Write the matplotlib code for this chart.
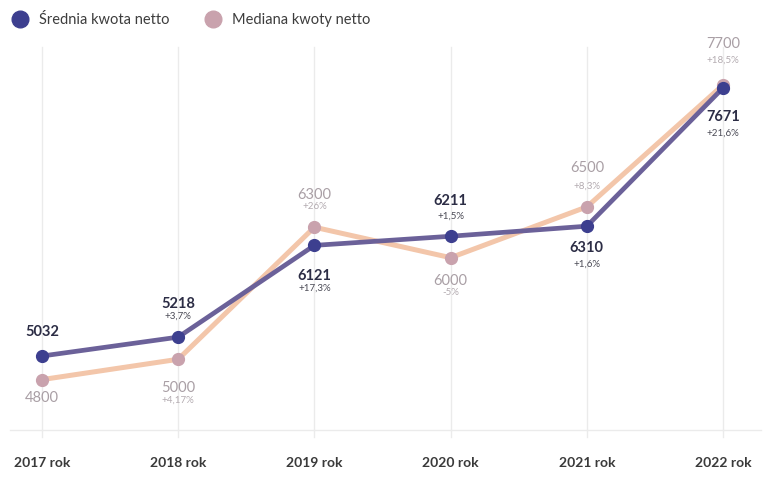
import matplotlib
matplotlib.use("Agg")
import matplotlib.pyplot as plt
from matplotlib.lines import Line2D

plt.rcParams['font.family'] = ['Lato', 'DejaVu Sans']

years = ["2017 rok", "2018 rok", "2019 rok", "2020 rok", "2021 rok", "2022 rok"]
srednia = [5032, 5218, 6121, 6211, 6310, 7671]
srednia_pct = ["", "+3,7%", "+17,3%", "+1,5%", "+1,6%", "+21,6%"]
mediana = [4800, 5000, 6300, 6000, 6500, 7700]
mediana_pct = ["", "+4,17%", "+26%", "-5%", "+8,3%", "+18,5%"]

# label offsets in pixels from the point (value, percent); positive = above
srednia_off = [(24, 0), (33, 21), (-31, -43), (35, 20), (-22, -38), (-29, -45)]
mediana_off = [(-18, 0), (-29, -41), (32, 21), (-23, -35), (39, 21), (41, 25)]

C_MEAN_LINE = "#6b6199"
C_MEAN_DOT = "#3d3f8f"
C_MED_LINE = "#f3c6aa"
C_MED_DOT = "#c9a2ad"

fig = plt.figure(figsize=(7.8, 4.8), dpi=100)
ax = fig.add_axes([0, 0, 1, 1])
x = list(range(len(years)))
ax.set_xlim(-0.308, 5.418)
ax.set_ylim(3812, 8536)
ax.axis("off")

# grid
for xi in x:
    ax.axvline(xi, ymin=0.09, ymax=0.902, color="#ebebeb", lw=1, zorder=0)
ax.axhline(4300, xmin=0.013, xmax=0.975, color="#ebebeb", lw=1, zorder=0)

ax.plot(x, mediana, color=C_MED_LINE, lw=3.6, solid_capstyle="round", zorder=2)
ax.plot(x, mediana, "o", color=C_MED_DOT, ms=8.5, zorder=3)
ax.plot(x, srednia, color=C_MEAN_LINE, lw=3.4, solid_capstyle="round", zorder=4)
ax.plot(x, srednia, "o", color=C_MEAN_DOT, ms=8.5, zorder=5)

def put_labels(vals, pcts, offs, vcol, pcol, weight):
    for xi, v, p, (ov, op) in zip(x, vals, pcts, offs):
        ax.annotate(str(v), (xi, v), xytext=(0, ov), textcoords="offset pixels",
                    ha="center", va="center", fontsize=10.5, color=vcol,
                    fontweight=weight, zorder=6)
        if p:
            ax.annotate(p, (xi, v), xytext=(0, op), textcoords="offset pixels",
                        ha="center", va="center", fontsize=7, color=pcol, zorder=6)

put_labels(srednia, srednia_pct, srednia_off, "#2c2d45", "#4a4a55", "bold")
put_labels(mediana, mediana_pct, mediana_off, "#a99fa5", "#b3abb0", "normal")

for xi, lab in zip(x, years):
    ax.text(xi, 0.035, lab, transform=ax.get_xaxis_transform(), ha="center",
            va="center", fontsize=10, fontweight="bold", color="#3a3a3a")

handles = [
    Line2D([], [], ls="none", marker="o", ms=12, color=C_MEAN_DOT),
    Line2D([], [], ls="none", marker="o", ms=12, color=C_MED_DOT),
]
fig.legend(handles, ["Średnia kwota netto", "Mediana kwoty netto"],
           loc="upper left", bbox_to_anchor=(-0.01, 1.0), ncol=2, frameon=False,
           fontsize=10.5, handletextpad=0.3, columnspacing=2.0, labelcolor="#3d3d3d")

fig.savefig("out.png", dpi=100)
